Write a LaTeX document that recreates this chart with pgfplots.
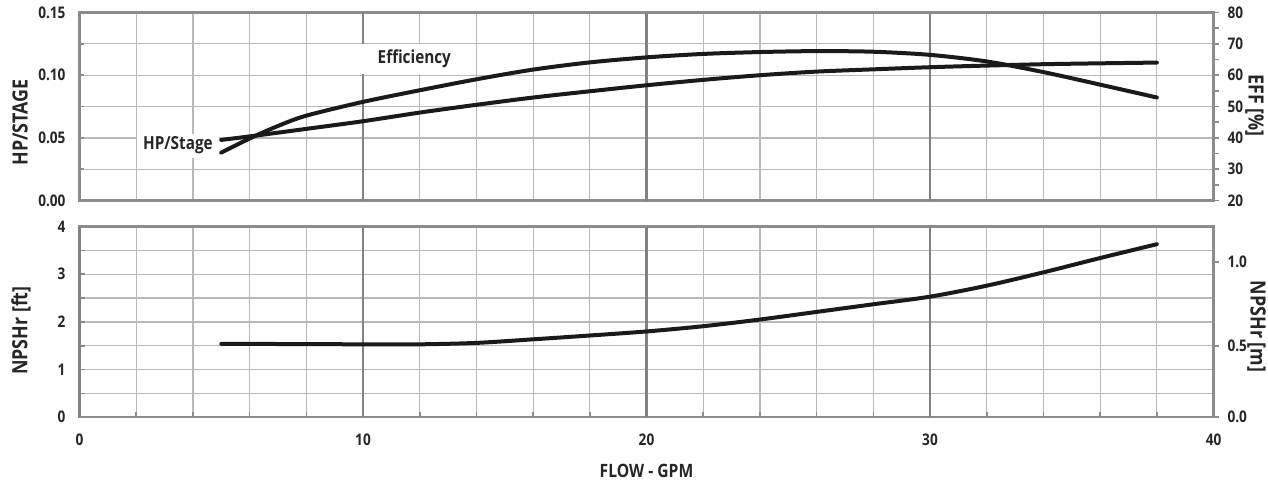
\documentclass[border=0pt]{standalone}
\usepackage{pgfplots}
\pgfplotsset{compat=1.18}
\usepackage{fontspec}
\setmainfont[FakeStretch=0.85]{Open Sans}
\definecolor{frame}{HTML}{8C8C8C}
\definecolor{gridc}{HTML}{B9B9B9}
\definecolor{gridmaj}{HTML}{828282}
\definecolor{curve}{HTML}{1A1A1A}

\pgfplotstableread{
x hp
5 0.0484
6 0.0512
8 0.0572
10 0.0633
12 0.0702
14 0.0764
16 0.0822
18 0.0872
20 0.0920
22 0.0963
24 0.1000
26 0.1029
28 0.1047
30 0.1064
32 0.1077
34 0.1088
36 0.1095
38 0.1101
}\hptable

\pgfplotstableread{
x eff
5 35.3
6 39.8
7 43.8
8 47.1
10 51.5
12 55.2
14 58.7
16 61.8
18 64.1
20 65.7
22 66.8
24 67.4
26 67.7
28 67.5
30 66.5
32 64.4
34 61.0
36 57.0
38 52.9
}\efftable

\pgfplotstableread{
x npsh
5 1.54
8 1.535
10 1.53
12 1.53
14 1.56
16 1.635
18 1.715
20 1.80
22 1.91
24 2.05
26 2.21
28 2.37
30 2.53
32 2.76
34 3.04
36 3.34
38 3.63
}\npshtable

\pgfplotsset{
  base/.style={
    scale only axis, width=567pt, xmin=0, xmax=40,
    axis line style={frame, line width=1.2pt},
    tick style={frame, line width=0.8pt},
    ticklabel style={font=\fontsize{8}{9}\selectfont\bfseries, text=black!85},
  },
  leftax/.style={
    base,
    xtick={2,4,...,38}, xticklabels={},
    xmajorgrids, ymajorgrids,
    major grid style={gridc, line width=0.6pt},
    extra x tick style={grid=major, major grid style={gridmaj, line width=1.1pt}},
    tick align=inside, major tick length=2.5pt,
    ytick pos=left, xtick pos=bottom,
    yticklabel style={xshift=-3.5pt},
  },
  rightax/.style={
    base,
    axis x line=none, axis y line*=right,
    tick align=outside, ytick pos=right,
    major tick length=2.5pt, minor tick length=2.5pt,
    yticklabel style={xshift=1pt},
  },
  curvestyle/.style={curve, line width=2pt, smooth, line cap=round},
}

\begin{document}
\begin{tikzpicture}
\path (-39.75pt,0pt) rectangle (594.25pt,239.5pt);

% ---------- top panel ----------
\begin{axis}[leftax,
  at={(0pt,139.5pt)}, anchor=south west, height=94pt,
  ymin=0, ymax=0.15,
  xtick style={draw=none},
  extra x ticks={10,20,30}, extra x tick labels={},
  ytick={0,0.025,0.05,0.075,0.1,0.125,0.15},
  yticklabels={0.00,,0.05,,0.10,,0.15},
]
\node[fill=white, minimum width=62pt, minimum height=15pt, inner sep=0pt,
      font=\fontsize{9}{10}\selectfont\bfseries, text=black!85]
      at (axis cs:11.81,0.1133) {Efficiency};
\node[fill=white, minimum width=41pt, minimum height=12pt, inner sep=0pt,
      font=\fontsize{9}{10}\selectfont\bfseries, text=black!85]
      at (axis cs:3.47,0.0439) {HP/Stage};
\addplot[curvestyle] table[x=x, y=hp] {\hptable};
\end{axis}

\begin{axis}[rightax,
  at={(0pt,139.5pt)}, anchor=south west, height=94pt,
  ymin=20, ymax=80,
  ytick={20,30,...,80}, yticklabels={20,30,40,50,60,70,80},
  minor ytick={25,35,...,75},
]
\addplot[curvestyle] table[x=x, y=eff] {\efftable};
\end{axis}

% ---------- bottom panel ----------
\begin{axis}[leftax,
  at={(0pt,31.15pt)}, anchor=south west, height=95.35pt,
  ymin=0, ymax=4,
  extra x ticks={0,10,20,30,40},
  extra x tick labels={0,10,20,30,40},
  extra x tick style={major tick length=0pt, xticklabel style={yshift=-5pt}},
  ytick={0,0.5,...,4},
  yticklabels={0,,1,,2,,3,,4},
]
\addplot[curvestyle] table[x=x, y=npsh] {\npshtable};
\end{axis}

\begin{axis}[rightax,
  at={(0pt,31.15pt)}, anchor=south west, height=95.35pt,
  ymin=0, ymax=4,
  ytick={0,1.5,3.26}, yticklabels={0.0,0.5,1.0},
]
\end{axis}

% ---------- axis titles ----------
\begin{scope}[every node/.style={inner sep=0pt, font=\fontsize{10.5}{11}\selectfont\bfseries, text=black!85}]
\node[rotate=90] at (-29.75pt,178.5pt) {HP/STAGE};
\node[rotate=-90] at (587.5pt,187pt) {EFF [\%]};
\node[rotate=90] at (-29.25pt,74.5pt) {NPSHr [ft]};
\node[rotate=-90] at (588.5pt,76.5pt) {NPSHr [m]};
\node[font=\fontsize{9.2}{10}\selectfont\bfseries] at (283.5pt,4.5pt) {FLOW - GPM};
\end{scope}
\end{tikzpicture}
\end{document}
